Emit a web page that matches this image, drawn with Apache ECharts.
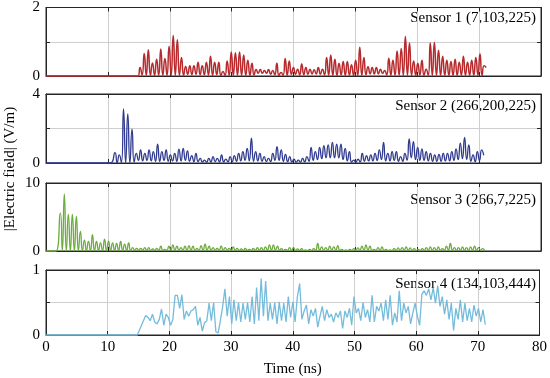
<!DOCTYPE html>
<html><head><meta charset="utf-8">
<script src="https://cdn.jsdelivr.net/npm/echarts@6/dist/echarts.min.js"></script>
<style>html,body{margin:0;padding:0;background:#fff}#c{width:550px;height:378px}</style>
</head><body><div id="c"></div>
<script>
const sensorLabels = ['Sensor 1 (7,103,225)', 'Sensor 2 (266,200,225)', 'Sensor 3 (266,7,225)', 'Sensor 4 (134,103,444)'];
const xTickValues = [0, 10, 20, 30, 40, 50, 60, 70, 80];
const yMax = [2, 4, 10, 1];
const yStep = [1, 2, 10, 0.5];

// Sensor 1: onset, first peak time, peak spacing (ns)
const s1Onset = 14.85, s1FirstPeak = 15.2, s1Spacing = 0.67;
const s1Peaks = [0.25,0.66,0.77,0.38,0.49,0.79,0.51,0.87,1.18,1.06,0.54,0.28,0.30,0.30,0.40,0.30,0.40,0.58,0.40,0.40,0.13,0.44,0.70,0.68,0.70,0.61,0.46,0.37,0.19,0.19,0.16,0.19,
  0.16,0.37,0.10,0.51,0.44,0.25,0.20,0.35,0.25,0.20,0.18,0.25,0.20,0.54,0.61,0.49,0.37,0.42,0.42,0.33,0.46,0.84,0.54,0.27,0.25,0.25,0.20,0.16,0.52,0.46,0.73,0.80,1.15,0.96,0.44,0.37,0.46,0.20,0.96,0.98,0.75,0.58,0.46,0.42,0.49,0.40,0.58,0.40,0.46,0.54,0.65,0.30];
const s1Troughs = [0.03,0.02,0.02,0.02,0.02,0.02,0.02,0.02,0.02,0.02,0.02,0.05,0.04,0.05,0.04,0.04,0.03,0.02,0.04,0.02,0.02,0.02,0.02,0.02,0.02,0.02,0.02,0.03,0.08,0.08,0.08,0.05,
  0.04,0.02,0.02,0.02,0.05,0.05,0.03,0.04,0.05,0.06,0.06,0.05,0.03,0.02,0.02,0.02,0.03,0.02,0.03,0.02,0.02,0.02,0.04,0.06,0.06,0.06,0.07,0.03,0.02,0.02,0.02,0.02,0.02,0.02,0.02,0.03,0.02,0.02,0.02,0.02,0.02,0.02,0.02,0.02,0.02,0.02,0.02,0.02,0.02,0.02,0.02,0.25];

const s2Onset = 10.4, s2FirstPeak = 11.15, s2Spacing = 0.689;
const s2Peaks = [0.60,0.47,3.13,2.85,1.96,0.56,0.76,0.56,0.76,0.66,1.10,0.66,0.76,0.47,0.56,0.80,0.85,0.70,0.43,0.56,0.27,0.17,0.27,0.37,0.27,0.47,0.23,0.37,0.43,0.56,0.66,0.85,1.44,0.66,0.56,0.37,0.27,
  0.56,0.95,0.76,0.50,0.37,0.23,0.17,0.27,0.37,0.90,0.66,0.90,1.00,1.05,1.20,1.09,1.09,0.85,0.66,0.17,0.23,0.56,0.43,0.47,0.56,0.76,1.20,0.56,0.66,0.66,0.37,0.56,1.40,1.24,0.90,0.82,0.66,0.56,0.47,0.50,0.56,0.56,0.66,0.82,1.15,1.48,1.05,0.47,0.66,0.76];
const s2Troughs = [0.02,0.02,0.02,0.02,0.05,0.15,0.12,0.15,0.12,0.10,0.10,0.15,0.10,0.12,0.10,0.12,0.15,0.10,0.08,0.08,0.06,0.05,0.06,0.08,0.06,0.06,0.06,0.08,0.10,0.12,0.15,0.12,0.10,0.12,0.10,0.08,0.08,
  0.15,0.15,0.10,0.08,0.06,0.05,0.05,0.06,0.10,0.15,0.20,0.25,0.30,0.30,0.30,0.30,0.20,0.12,0.05,0.05,0.06,0.10,0.12,0.12,0.15,0.20,0.12,0.12,0.15,0.10,0.10,0.15,0.30,0.20,0.15,0.15,0.12,0.10,0.10,0.10,0.12,0.12,0.15,0.20,0.25,0.20,0.10,0.08,0.15,0.45];

const s3Onset = 1.62, s3FirstPeak = 2.31, s3Spacing = 0.65;
const s3Peaks = [5.6,8.4,5.4,5.4,5.1,2.9,1.6,1.4,2.4,1.4,1.2,1.75,1.46,1.2,1.1,1.4,1.0,1.2,0.5,0.4,0.4,0.5,0.5,0.3,0.4,0.7,0.25,0.7,0.9,0.7,0.5,0.7,0.8,0.7,0.4,0.8,1.0,0.7,0.5,0.4,0.7,0.5,0.4,0.6,0.4,0.3,0.4,0.25,0.4,0.5,0.5,0.6,0.9,0.9,0.7,
  0.35,0.25,0.5,0.5,0.3,0.35,0.15,0.25,0.35,1.1,0.6,0.5,0.7,0.6,0.8,0.25,0.15,0.25,0.35,0.45,0.7,0.9,0.7,0.25,0.5,0.6,0.25,0.15,0.35,0.45,0.5,0.6,0.45,0.35,0.25,0.35,0.5,0.6,0.5,0.6,0.35,0.7,1.1,0.5,0.5,0.6,0.5,0.6,0.7,0.5,0.35];
const s3Troughs = [0.05,0.05,0.05,0.05,0.05,0.05,0.05,0.05,0.05,0.05,0.05,0.05,0.05,0.05,0.05,0.05,0.05,0.05,0.10,0.10,0.10,0.08,0.08,0.08,0.08,0.08,0.08,0.10,0.10,0.10,0.10,0.10,0.10,0.10,0.10,0.10,0.10,0.10,0.10,0.10,0.10,0.10,0.10,0.10,0.08,0.08,0.08,0.08,0.08,0.10,0.10,0.10,0.10,0.10,0.10,
  0.10,0.08,0.08,0.08,0.08,0.06,0.06,0.06,0.10,0.10,0.10,0.10,0.10,0.10,0.08,0.06,0.06,0.08,0.08,0.10,0.10,0.10,0.08,0.08,0.10,0.08,0.06,0.06,0.08,0.10,0.10,0.10,0.10,0.08,0.08,0.08,0.10,0.10,0.10,0.10,0.10,0.10,0.10,0.10,0.10,0.10,0.10,0.10,0.10,0.10,0.10];

const s4Onset = 14.8, s4FirstPoint = 16.16, s4Step = 0.367;
const s4Values = [0.30,0.27,0.22,0.32,0.20,0.17,0.24,0.40,0.15,0.32,0.27,0.15,0.24,0.61,0.61,0.41,0.62,0.24,0.37,0.29,0.37,0.39,0.44,0.15,0.27,0.06,0.19,0.22,0.49,0.22,0.50,0.05,0.03,0.22,0.44,0.71,0.29,0.59,0.17,0.54,0.22,0.50,0.20,0.49,0.24,0.50,0.20,0.59,0.17,0.73,0.22,0.87,0.29,0.83,0.22,0.49,
  0.24,0.50,0.17,0.51,0.22,0.49,0.20,0.59,0.27,0.51,0.20,0.59,0.79,0.24,0.37,0.46,0.17,0.39,0.29,0.41,0.12,0.29,0.44,0.22,0.39,0.27,0.32,0.20,0.34,0.27,0.37,0.10,0.37,0.27,0.41,0.15,0.59,0.34,0.41,0.22,0.50,0.27,0.39,0.20,0.61,0.20,0.44,0.37,0.49,0.22,0.54,0.24,0.61,0.15,0.34,0.20,0.68,0.22,0.49,0.34,0.44,0.17,0.34,0.49,0.29,0.15,0.63,0.68,0.61,0.71,0.54,0.73,0.49,0.76,0.44,0.59,0.32,0.54,0.24,0.49,0.07,0.41,0.24,0.54,0.20,0.49,0.22,0.41,0.20,0.46,0.29,0.41,0.20,0.39,0.16];

const colors = ['#b8292c', '#2f3a8f', '#6cac3c', '#74bcdc'];

function buildRect(onset, firstPeak, spacing, peaks, troughs) {
  const d = [[0, 0], [onset, 0]];
  for (let i = 0; i < peaks.length; i++) {
    const t = firstPeak + i * spacing;
    d.push([t, peaks[i]]);
    d.push([t + spacing / 2, troughs[i]]);
  }
  return d;
}
function buildSeq(onset, first, step, vals) {
  const d = [[0, 0], [onset, 0]];
  vals.forEach((v, i) => d.push([first + i * step, v]));
  return d;
}
const seriesData = [
  buildRect(s1Onset, s1FirstPeak, s1Spacing, s1Peaks, s1Troughs),
  buildRect(s2Onset, s2FirstPeak, s2Spacing, s2Peaks, s2Troughs),
  buildRect(s3Onset, s3FirstPeak, s3Spacing, s3Peaks, s3Troughs),
  buildSeq(s4Onset, s4FirstPoint, s4Step, s4Values)
];

const FONT = '"Liberation Serif", "Times New Roman", serif';
const tops = [6, 94, 183, 270];
const heights = [70, 69, 68, 68];
const grids = [], xAxes = [], yAxes = [], series = [], graphics = [];
const labelY = [20, 108, 202, 286];
const tick = { show: true, inside: true, length: 4, lineStyle: { color: '#262626' } };
const line = { show: true, onZero: false, lineStyle: { color: '#262626', width: 1 } };
for (let i = 0; i < 4; i++) {
  grids.push({ left: 46, right: 9, top: tops[i], height: heights[i], show: true, borderColor: '#262626', borderWidth: 1, backgroundColor: 'transparent' });
  xAxes.push({
    type: 'value', gridIndex: i, position: 'bottom', min: xTickValues[0], max: xTickValues[xTickValues.length - 1], interval: 10,
    axisLine: line, axisTick: tick,
    axisLabel: { show: i === 3, color: '#000', fontFamily: FONT, fontSize: 15, margin: 5 },
    splitLine: { show: true, lineStyle: { color: '#cfcfcf', width: 1 } },
    name: i === 3 ? 'Time (ns)' : '', nameLocation: 'middle', nameGap: 27,
    nameTextStyle: { color: '#000', fontFamily: FONT, fontSize: 15 }
  });
}
for (let i = 0; i < 4; i++) {
  xAxes.push({
    type: 'value', gridIndex: i, position: 'top', min: 0, max: 80, interval: 10,
    axisLine: line, axisTick: tick,
    axisLabel: { show: false }, splitLine: { show: false }
  });
}
for (let i = 0; i < 4; i++) {
  const mx = yMax[i];
  yAxes.push({
    type: 'value', gridIndex: i, position: 'left', min: 0, max: mx, interval: yStep[i],
    axisLine: line, axisTick: tick,
    axisLabel: { color: '#000', fontFamily: FONT, fontSize: 15, margin: 6,
      formatter: v => (v === 0 || v === mx) ? String(v) : '' },
    splitLine: { show: true, lineStyle: { color: '#cfcfcf', width: 1 } }
  });
}
for (let i = 0; i < 4; i++) {
  yAxes.push({
    type: 'value', gridIndex: i, position: 'right', min: 0, max: yMax[i], interval: yStep[i],
    axisLine: line, axisTick: tick,
    axisLabel: { show: false }, splitLine: { show: false }
  });
}
for (let i = 0; i < 4; i++) {
  series.push({
    type: 'line', xAxisIndex: i, yAxisIndex: i, data: seriesData[i],
    showSymbol: false, symbol: 'none', clip: false,
    smooth: i === 3 ? false : 0.6,
    lineStyle: { color: colors[i], width: i === 0 ? 1.5 : 1.3 },
    animation: false
  });
  graphics.push({
    type: 'text', right: 14, top: labelY[i] - 9,
    style: { text: sensorLabels[i], font: '15px ' + FONT, fill: '#000' }
  });
}
graphics.push({
  type: 'text', x: 10, y: 169, rotation: Math.PI / 2,
  style: { text: '|Electric field| (V/m)', font: '15px ' + FONT, fill: '#000', textAlign: 'center', textVerticalAlign: 'middle' }
});

const chart = echarts.init(document.getElementById('c'), null, { renderer: 'canvas' });
chart.setOption({
  animation: false,
  backgroundColor: '#fff',
  grid: grids, xAxis: xAxes, yAxis: yAxes, series: series, graphic: graphics
});
</script></body></html>
